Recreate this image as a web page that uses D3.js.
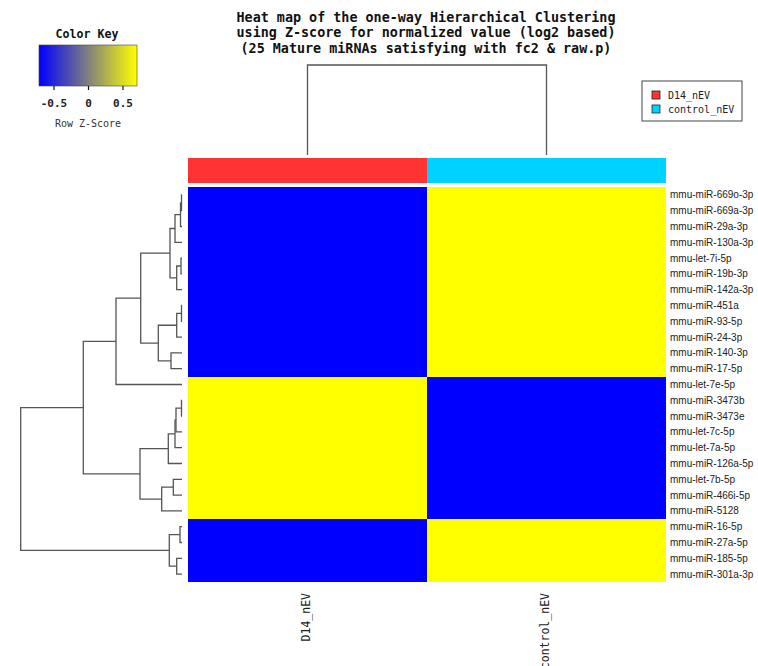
<!DOCTYPE html>
<html>
<head>
<meta charset="utf-8">
<script src="https://cdn.jsdelivr.net/npm/d3@7"></script>
<style>
  html, body { margin: 0; padding: 0; background: #fff; }
  svg { display: block; }
</style>
</head>
<body>
<svg id="chart" width="758" height="666"></svg>
<script>
// ---------------- DATA ----------------
const titleLines = [
  "Heat map of the one-way Hierarchical Clustering",
  "using Z-score for normalized value (log2 based)",
  "(25 Mature miRNAs satisfying with fc2 & raw.p)"
];
const rowLabels = [
  "mmu-miR-669o-3p", "mmu-miR-669a-3p", "mmu-miR-29a-3p", "mmu-miR-130a-3p",
  "mmu-let-7i-5p", "mmu-miR-19b-3p", "mmu-miR-142a-3p", "mmu-miR-451a",
  "mmu-miR-93-5p", "mmu-miR-24-3p", "mmu-miR-140-3p", "mmu-miR-17-5p",
  "mmu-let-7e-5p", "mmu-miR-3473b", "mmu-miR-3473e", "mmu-let-7c-5p",
  "mmu-let-7a-5p", "mmu-miR-126a-5p", "mmu-let-7b-5p", "mmu-miR-466i-5p",
  "mmu-miR-5128", "mmu-miR-16-5p", "mmu-miR-27a-5p", "mmu-miR-185-5p",
  "mmu-miR-301a-3p"
];
const colLabels = ["D14_nEV", "control_nEV"];
const colGroupColors = ["#FF3333", "#00D2FF"];
// Row Z-scores (two samples -> +/-0.707)
const d14Z = [
  -0.707, -0.707, -0.707, -0.707, -0.707, -0.707, -0.707, -0.707, -0.707, -0.707, -0.707, -0.707,
   0.707,  0.707,  0.707,  0.707,  0.707,  0.707,  0.707,  0.707,  0.707,
  -0.707, -0.707, -0.707, -0.707
];
const controlZ = [
   0.707,  0.707,  0.707,  0.707,  0.707,  0.707,  0.707,  0.707,  0.707,  0.707,  0.707,  0.707,
  -0.707, -0.707, -0.707, -0.707, -0.707, -0.707, -0.707, -0.707, -0.707,
   0.707,  0.707,  0.707,  0.707
];
// Row dendrogram, hclust-like merges: negative = leaf (1-based, display order), positive = earlier merge step
const rowMerge = [
  [-1, -2, 0.5],
  [1, -3, 1.5],
  [2, -4, 7],
  [-5, -6, 1],
  [4, -7, 5.3],
  [3, 5, 12],
  [-8, -9, 0.5],
  [7, -10, 5.3],
  [-11, -12, 11],
  [8, 9, 23.7],
  [6, 10, 41.3],
  [11, -13, 66],
  [-14, -15, 0.5],
  [13, -16, 6],
  [14, -17, 7],
  [15, -18, 13.7],
  [-19, -20, 8.7],
  [17, -21, 20.3],
  [16, 18, 42],
  [12, 19, 98.7],
  [-22, -23, 2],
  [-24, -25, 5.3],
  [21, 22, 12.7],
  [20, 23, 161.3]
];
const colMerge = [[-1, -2, 1]];
const keyTicks = [-0.5, 0, 0.5];
const keyTickLabels = ["-0.5", "0", "0.5"];
const legendLabels = ["D14_nEV", "control_nEV"];

// ---------------- LAYOUT ----------------
const svg = d3.select("#chart");
const mono = "'DejaVu Sans Mono', 'Liberation Mono', monospace";
const sans = "'Liberation Sans', Arial, sans-serif";

const hm = { left: 188, right: 666, top: 187, bottom: 582 };
const x = d3.scaleBand().domain(d3.range(colLabels.length)).range([hm.left, hm.right]);
const y = d3.scaleBand().domain(d3.range(rowLabels.length)).range([hm.top, hm.bottom]);
const color = d3.scaleLinear().domain([-0.707, 0, 0.707])
  .range(["#0000FF", "#808080", "#FFFF00"]).clamp(true);

// Title
svg.append("g").selectAll("text").data(titleLines).join("text")
  .attr("x", 426).attr("y", (d, i) => 22 + i * 15.4)
  .attr("text-anchor", "middle")
  .attr("font-family", mono).attr("font-weight", "bold").attr("font-size", 13.4)
  .attr("fill", "#111")
  .text(d => d);

// Heatmap cells
const cells = [];
rowLabels.forEach((r, i) => {
  cells.push({ row: i, col: 0, v: d14Z[i] });
  cells.push({ row: i, col: 1, v: controlZ[i] });
});
svg.append("g").selectAll("rect").data(cells).join("rect")
  .attr("x", d => x(d.col)).attr("y", d => y(d.row))
  .attr("width", x.bandwidth()).attr("height", y.bandwidth())
  .attr("fill", d => color(d.v))
  .attr("shape-rendering", "crispEdges");

// Column side color bar
svg.append("g").selectAll("rect").data(colLabels).join("rect")
  .attr("x", (d, i) => x(i)).attr("y", 158)
  .attr("width", x.bandwidth()).attr("height", 25)
  .attr("fill", (d, i) => colGroupColors[i])
  .attr("shape-rendering", "crispEdges");

// Row labels
svg.append("g").selectAll("text").data(rowLabels).join("text")
  .attr("x", 670).attr("y", (d, i) => y(i) + y.bandwidth() / 2)
  .attr("dy", "0.35em")
  .attr("font-family", sans).attr("font-size", 10).attr("fill", "#222")
  .text(d => d);

// Column labels (rotated)
svg.append("g").selectAll("text").data(colLabels).join("text")
  .attr("transform", (d, i) => `translate(${x(i) + x.bandwidth() / 2 - 1.5},593) rotate(-90)`)
  .attr("text-anchor", "end").attr("dy", "0.35em")
  .attr("font-family", mono).attr("font-size", 11.5).attr("fill", "#222")
  .text(d => d);

// ---------------- DENDROGRAMS ----------------
function layoutMerge(merge, leafPos) {
  const nodes = [];
  const pos = k => k < 0 ? { p: leafPos(-k - 1), h: 0 } : nodes[k - 1];
  merge.forEach(([a, b, h]) => {
    const A = pos(a), B = pos(b);
    nodes.push({ p: (A.p + B.p) / 2, h, a: A, b: B });
  });
  return nodes;
}
const dendroStroke = "#555";

// Row dendrogram
const rowH = d3.scaleLinear().domain([0, d3.max(rowMerge, d => d[2])]).range([182, 20.7]);
const rowNodes = layoutMerge(rowMerge, i => y(i) + y.bandwidth() / 2);
svg.append("g").selectAll("path").data(rowNodes).join("path")
  .attr("d", n => `M${rowH(n.a.h)},${n.a.p}H${rowH(n.h)}V${n.b.p}H${rowH(n.b.h)}`)
  .attr("fill", "none").attr("stroke", dendroStroke).attr("stroke-width", 1.3);

// Column dendrogram
const colH = d3.scaleLinear().domain([0, d3.max(colMerge, d => d[2])]).range([155, 65]);
const colNodes = layoutMerge(colMerge, i => x(i) + x.bandwidth() / 2);
svg.append("g").selectAll("path").data(colNodes).join("path")
  .attr("d", n => `M${n.a.p},${colH(n.a.h)}V${colH(n.h)}H${n.b.p}V${colH(n.b.h)}`)
  .attr("fill", "none").attr("stroke", dendroStroke).attr("stroke-width", 1.3);

// ---------------- COLOR KEY ----------------
const keyX = d3.scaleLinear().domain([-0.71, 0.71]).range([39, 137]);
const defs = svg.append("defs");
const grad = defs.append("linearGradient").attr("id", "keygrad")
  .attr("x1", "0%").attr("x2", "100%").attr("y1", "0%").attr("y2", "0%");
d3.range(0, 1.0001, 0.05).forEach(t => {
  const v = -0.71 + t * 1.42;
  grad.append("stop").attr("offset", (t * 100) + "%").attr("stop-color", color(v));
});
svg.append("text").attr("x", 87).attr("y", 38).attr("text-anchor", "middle")
  .attr("font-family", mono).attr("font-weight", "bold").attr("font-size", 11.6)
  .attr("fill", "#111").text("Color Key");
svg.append("rect").attr("x", keyX.range()[0]).attr("y", 45)
  .attr("width", keyX.range()[1] - keyX.range()[0]).attr("height", 41)
  .attr("fill", "url(#keygrad)").attr("stroke", "#444").attr("stroke-width", 0.6);
const keyAxis = d3.axisBottom(keyX).tickValues(keyTicks)
  .tickFormat((d, i) => keyTickLabels[i]).tickSize(4).tickPadding(9);
const kg = svg.append("g").attr("transform", "translate(0,86)").call(keyAxis);
kg.select(".domain").remove();
kg.selectAll(".tick line").attr("stroke", "#111").attr("stroke-width", 1.2);
kg.selectAll(".tick text").attr("font-family", mono).attr("font-weight", "bold")
  .attr("font-size", 11).attr("fill", "#222");
svg.append("text").attr("x", 88).attr("y", 127).attr("text-anchor", "middle")
  .attr("font-family", mono).attr("font-size", 10).attr("fill", "#333")
  .text("Row Z-Score");

// ---------------- LEGEND ----------------
const lg = svg.append("g");
lg.append("rect").attr("x", 642).attr("y", 81).attr("width", 100).attr("height", 40)
  .attr("fill", "#fff").attr("stroke", "#444").attr("stroke-width", 1);
lg.selectAll("rect.sw").data(legendLabels).join("rect").attr("class", "sw")
  .attr("x", 652).attr("y", (d, i) => 91 + i * 14).attr("width", 8).attr("height", 8)
  .attr("fill", (d, i) => colGroupColors[i]).attr("stroke", "#222").attr("stroke-width", 0.8);
lg.selectAll("text").data(legendLabels).join("text")
  .attr("x", 668).attr("y", (d, i) => 95 + i * 14).attr("dy", "0.35em")
  .attr("font-family", mono).attr("font-size", 10).attr("fill", "#222")
  .text(d => d);
</script>
</body>
</html>
